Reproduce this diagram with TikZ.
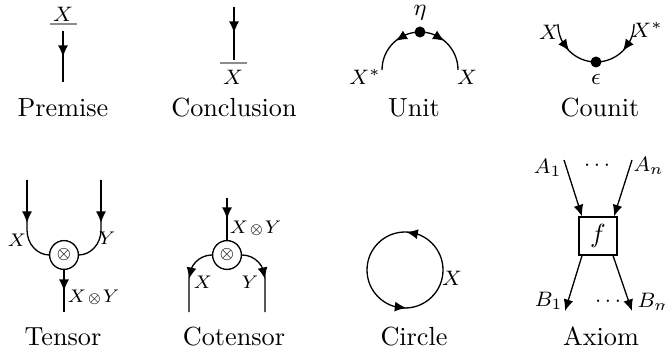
\documentclass[tikz,border=0pt]{standalone}
\usetikzlibrary{arrows.meta,calc}
\definecolor{linegray}{RGB}{140,140,140}
\tikzset{
 wire/.style={line width=0.5pt},
 endarrow/.style={-{Latex[length=4.4pt,width=3.8pt]}},
 lbl/.style={inner sep=0pt,font=\footnotesize},
 slbl/.style={inner sep=0pt,font=\scriptsize},
 title/.style={inner sep=0pt,anchor=base},
 dotnode/.style={circle,fill=black,inner sep=0pt,minimum size=4.2pt},
 tensnode/.style={circle,draw,line width=0.5pt,inner sep=0pt,minimum size=11pt,font=\fontsize{6}{7}\selectfont},
 boxnode/.style={draw,line width=0.5pt,minimum size=14.5pt,inner sep=0pt}
}
\newcommand{\tensxy}{$X\mkern1mu{\scriptstyle\otimes}\mkern1muY$}
\begin{document}
\begin{tikzpicture}[x=0.382pt,y=-0.382pt]
\useasboundingbox (0,0) rectangle (665,351);

% Premise
\node[lbl] (pX) at (63,14) {$X$};
\coordinate (pL) at (50,24); \coordinate (pR) at (77,24);
\draw[linegray,wire] (pL) -- (pR);
\coordinate (pT) at (63,31); \coordinate (pB) at (63,82); \coordinate (pM) at (63,57);
\draw[wire] (pT) -- (pB);
\draw[wire,endarrow] (pT) -- (pM);
\node[title] (pt) at (63,116.5) {Premise};

% Conclusion
\coordinate (cT) at (234,7); \coordinate (cB) at (234,60); \coordinate (cM) at (234,33);
\draw[wire] (cT) -- (cB);
\draw[wire,endarrow] (cT) -- (cM);
\coordinate (cL) at (220,63); \coordinate (cR) at (247,63);
\draw[linegray,wire] (cL) -- (cR);
\node[lbl] (cX) at (233,77) {$X$};
\node[title] (ct) at (234,116.5) {Conclusion};

% Unit
\coordinate (uc) at (420,70);
\node[dotnode] (eta) at (420,32) {};
\node[inner sep=0pt,font=\small] (etal) at (420,13) {$\eta$};
\draw[wire] (eta.center) arc[start angle=-90,end angle=-180,radius=38] coordinate (uL);
\draw[wire] (eta.center) arc[start angle=-90,end angle=0,radius=38] coordinate (uR);
\draw[wire,endarrow] ($(uc)+(-112.6:38)$) -- ($(uc)+(-130:38)$);
\draw[wire,endarrow] ($(uc)+(-67.4:38)$) -- ($(uc)+(-50:38)$);
\node[lbl] (uXs) at (365,77) {$X^*$};
\node[lbl] (uX) at (467,77) {$X$};
\node[title] (ut) at (414,116.5) {Unit};

% Counit
\coordinate (kc) at (596,24);
\node[dotnode] (eps) at (596,62) {};
\coordinate (kL) at (558,24); \coordinate (kR) at (634,24);
\draw[wire] (kL) arc[start angle=180,end angle=90,radius=38];
\draw[wire] (kR) arc[start angle=0,end angle=90,radius=38];
\draw[wire,endarrow] ($(kc)+(152.6:38)$) -- ($(kc)+(135:38)$);
\draw[wire,endarrow] ($(kc)+(27.4:38)$) -- ($(kc)+(45:38)$);
\node[lbl] (kX) at (549,32) {$X$};
\node[lbl] (kXs) at (647,30) {$X^*$};
\node[inner sep=0pt,font=\small] (epsl) at (596,79) {$\epsilon$};
\node[title] (kt) at (600,116.5) {Counit};

% Tensor
\node[tensnode] (ten) at (64,255) {$\otimes$};
\coordinate (tL) at (27,180); \coordinate (tR) at (101,180); \coordinate (tB) at (64,312);
\draw[wire] (tL) -- (27,230) arc[start angle=180,end angle=90,x radius=22.5,y radius=25];
\draw[wire] (tR) -- (101,230) arc[start angle=0,end angle=90,x radius=22.5,y radius=25];
\draw[wire,endarrow] (tL) -- (27,223);
\draw[wire,endarrow] (tR) -- (101,223);
\draw[wire] (ten.south) -- (tB);
\draw[wire,endarrow] (ten.south) -- (64,291);
\node[slbl] (tX) at (17,240) {$X$};
\node[slbl] (tY) at (107,238) {$Y$};
\node[slbl,anchor=west] (tXY) at (67,297) {\tensxy};
\node[title] (tt) at (63,345) {Tensor};

% Cotensor
\node[tensnode] (cot) at (227,255) {$\otimes$};
\coordinate (oT) at (227,198); \coordinate (oL) at (189,312); \coordinate (oR) at (265,312);
\coordinate (ocL) at ($(cot.west)+(0,24)$);
\coordinate (ocR) at ($(cot.east)+(0,24)$);
\draw[wire] (oT) -- (cot.north);
\draw[wire,endarrow] (oT) -- (227,219);
\draw[wire] (cot.west) arc[start angle=-90,end angle=-180,x radius=23,y radius=24] -- (oL);
\draw[wire] (cot.east) arc[start angle=-90,end angle=0,x radius=23,y radius=24] -- (oR);
\draw[wire,endarrow] ($(ocL)+(-154:23 and 24)$) -- ($(ocL)+(-180:23 and 24)$);
\draw[wire,endarrow] ($(ocR)+(-26:23 and 24)$) -- ($(ocR)+(0:23 and 24)$);
\node[slbl,anchor=west] (oXY) at (229,228) {\tensxy};
\node[slbl] (oX) at (203,282) {$X$};
\node[slbl] (oY) at (250,282) {$Y$};
\node[title] (ot) at (234,345) {Cotensor};

% Circle
\coordinate (cc) at (405,270);
\coordinate (cE) at (443,270);
\draw[wire] (cE) arc[start angle=0,end angle=-360,radius=38];
\draw[wire,endarrow] ($(cc)+(-70.6:38)$) -- ($(cc)+(-88:38)$);
\draw[wire,endarrow] ($(cc)+(105.4:38)$) -- ($(cc)+(88:38)$);
\node[lbl] (ciX) at (452,278) {$X$};
\node[title] (cit) at (414,345) {Circle};

% Axiom
\node[boxnode] (f) at (598,236) {$f$};
\coordinate (a1) at (564,160); \coordinate (an) at (632,160);
\coordinate (b1) at (565,311); \coordinate (bm) at (632,311);
\draw[wire,endarrow] (a1) -- ($(f.north)+(-16,0)$);
\draw[wire,endarrow] (an) -- ($(f.north)+(16,0)$);
\draw[wire,endarrow] ($(f.south)+(-16,0)$) -- (b1);
\draw[wire,endarrow] ($(f.south)+(15,0)$) -- (bm);
\node[lbl,anchor=east] (A1) at (562,168) {$A_1$};
\node[lbl] (Ad) at (597,166) {$\cdots$};
\node[lbl,anchor=west] (An) at (633,166) {$A_n$};
\node[lbl,anchor=east] (B1) at (563,301) {$B_1$};
\node[lbl] (Bd) at (608,302) {$\cdots$};
\node[lbl,anchor=west] (Bm) at (637,302) {$B_m$};
\node[title] (at) at (601,345) {Axiom};
\end{tikzpicture}
\end{document}
